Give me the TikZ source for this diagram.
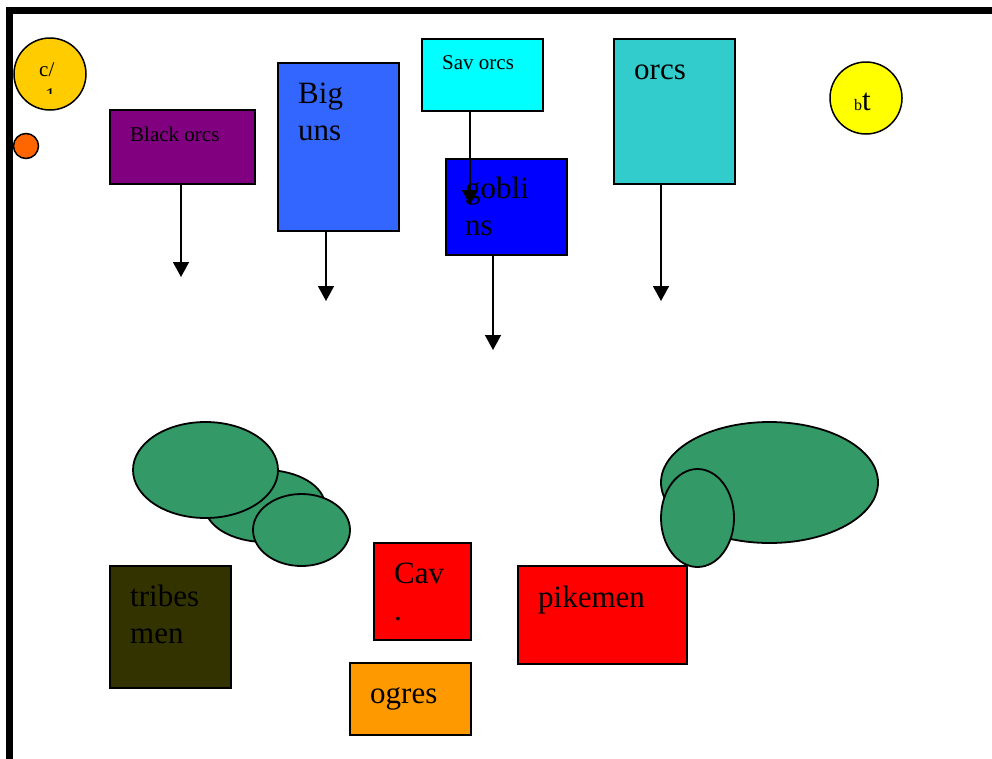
\documentclass[tikz,border=0pt]{standalone}
\usepackage{fontspec}
\setmainfont{Liberation Serif}
\usetikzlibrary{arrows.meta}

\definecolor{gold}{HTML}{FFCC00}
\definecolor{ember}{HTML}{FF6600}
\definecolor{blackorcs}{HTML}{800080}
\definecolor{biguns}{HTML}{3366FF}
\definecolor{savorcs}{HTML}{00FFFF}
\definecolor{goblins}{HTML}{0000FF}
\definecolor{orcs}{HTML}{33CCCC}
\definecolor{bolt}{HTML}{FFFF00}
\definecolor{terrain}{HTML}{339966}
\definecolor{tribesmen}{HTML}{333300}
\definecolor{cav}{HTML}{FF0000}
\definecolor{ogres}{HTML}{FF9900}

\newcommand\bigFont{\fontsize{31}{37}\selectfont}
\newcommand\smallFont{\fontsize{21}{25}\selectfont}
\newcommand\outlineWidth{1.5pt}

\tikzset{
	unit/.style={draw, line width=\outlineWidth, rectangle, anchor=north west, inner sep=0pt},
	tag/.style={draw, line width=\outlineWidth, circle, inner sep=0pt},
	blob/.style={draw, line width=1.8pt, fill=terrain},
	caption/.style={anchor=base west, inner sep=0pt, align=left},
	move/.style={line width=1.5pt, -{Triangle[length=15pt,width=16pt]}},
}

\begin{document}
\begin{tikzpicture}[x=1pt, y=-1pt]
	\useasboundingbox (0,0) rectangle (992,758);

	% table edge
	\draw[line width=7pt, line join=miter] (9.5,770) -- (9.5,10.5) -- (1000,10.5);

	% markers
	\node[tag, fill=gold, minimum size=72pt] (cTag) at (50,74) {};
	\node[caption, font=\smallFont] (cTagText) at (39,76) {c/};
	\begin{scope}
		\clip (40,87) rectangle (60,93);
		\node[caption, font=\smallFont] (cTagCut) at (45,102) {1};
	\end{scope}
	\node[tag, fill=ember, minimum size=25pt] (emberTag) at (26,146) {};
	\node[tag, fill=bolt, minimum size=72pt] (btTag) at (866,98) {};
	\node[caption] (btText) at (854,110) {{\fontsize{16}{18}\selectfont b}{\bigFont t}};

	% orc units (multi-line captions sit on their last line)
	\node[unit, fill=blackorcs, minimum width=145pt, minimum height=74pt] (blackOrcs) at (109,109) {};
	\node[caption, font=\smallFont] (blackOrcsText) at (130,141) {Black orcs};
	\node[unit, fill=biguns, minimum width=121pt, minimum height=168pt] (bigUns) at (277,62) {};
	\node[caption, font=\bigFont] (bigUnsText) at (298,140) {Big\\uns};
	\node[unit, fill=savorcs, minimum width=121pt, minimum height=72pt] (savOrcs) at (421,38) {};
	\node[caption, font=\smallFont] (savOrcsText) at (442,69) {Sav orcs};
	\node[unit, fill=goblins, minimum width=121pt, minimum height=96pt] (goblins) at (445,158) {};
	\node[caption, font=\bigFont] (goblinsText) at (465,235) {gobli\\ns};
	\node[unit, fill=orcs, minimum width=121pt, minimum height=145pt] (orcs) at (613,38) {};
	\node[caption, font=\bigFont] (orcsText) at (634,79) {orcs};

	\coordinate (blackOrcsEnd) at (181,277);
	\coordinate (bigUnsEnd) at (326,301);
	\coordinate (savOrcsEnd) at (470,205);
	\coordinate (goblinsEnd) at (493,350);
	\coordinate (orcsEnd) at (661,301);
	\draw[move] (blackOrcs.south -| blackOrcsEnd) -- (blackOrcsEnd);
	\draw[move] (bigUns.south -| bigUnsEnd) -- (bigUnsEnd);
	\draw[move] (savOrcs.south -| savOrcsEnd) -- (savOrcsEnd);
	\draw[move] (goblins.south -| goblinsEnd) -- (goblinsEnd);
	\draw[move] (orcs.south -| orcsEnd) -- (orcsEnd);

	% hills
	\draw[blob] (265,506) ellipse [x radius=60, y radius=36];
	\draw[blob] (205.5,470) ellipse [x radius=72.5, y radius=48];
	\draw[blob] (301.5,530) ellipse [x radius=48.5, y radius=36];
	\draw[blob] (769.5,482.5) ellipse [x radius=108.5, y radius=60.5];
	\draw[blob] (697.5,518) ellipse [x radius=36.5, y radius=49];

	% defending units
	\node[unit, fill=tribesmen, minimum width=121pt, minimum height=122pt] (tribesmen) at (109,565) {};
	\node[caption, font=\bigFont] (tribesmenText) at (130,643) {tribes\\men};
	\node[unit, fill=cav, minimum width=97pt, minimum height=97pt] (cav) at (373,542) {};
	\node[caption, font=\bigFont] (cavText) at (394,620) {Cav\\.};
	\node[unit, fill=ogres, minimum width=121pt, minimum height=72pt] (ogres) at (349,662) {};
	\node[caption, font=\bigFont] (ogresText) at (370,703) {ogres};
	\node[unit, fill=cav, minimum width=169pt, minimum height=98pt] (pikemen) at (517,565) {};
	\node[caption, font=\bigFont] (pikemenText) at (538,607) {pikemen};
\end{tikzpicture}
\end{document}
